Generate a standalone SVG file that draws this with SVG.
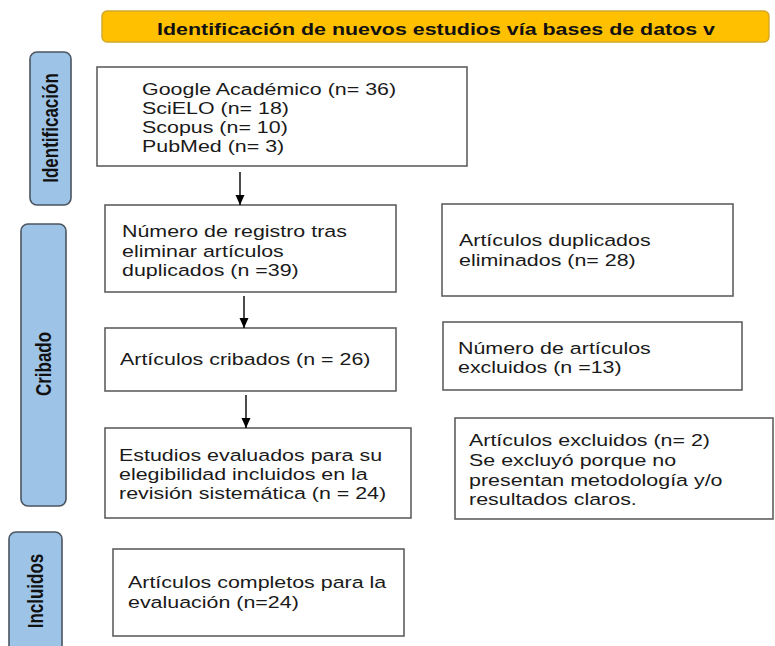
<svg xmlns="http://www.w3.org/2000/svg" width="775" height="646" viewBox="0 0 775 646">
<defs>
<style>
.box{fill:#ffffff;stroke:#5f5f5f;stroke-width:1.6}
.side{fill:#9dc3e6;stroke:#4a5560;stroke-width:1.6}
.title{fill:#ffc000;stroke:#d4a82a;stroke-width:1.4}
.t{font-family:"Liberation Sans",Arial,sans-serif;font-size:17px;fill:#1a1a1a}
.b{font-family:"Liberation Sans",Arial,sans-serif;font-size:17px;font-weight:bold;fill:#111111}
.conn{stroke:#000000;stroke-width:1.4;fill:none}
</style>
<marker id="ah" markerUnits="userSpaceOnUse" markerWidth="10" markerHeight="10" refX="10" refY="5" orient="auto">
<path d="M0,0.5 L10,5 L0,9.5 z" fill="#000000"/>
</marker>
</defs>
<rect width="775" height="646" fill="#ffffff"/>

<g id="title">
<rect class="title" x="102" y="11" width="667" height="31" rx="5"/>
<text class="b" transform="matrix(1.26 0 0 1 157 0)" x="0" y="35">Identificación de nuevos estudios vía bases de datos v</text>
</g>

<g id="phase-identificacion">
<rect class="side" x="30" y="52" width="41" height="153" rx="7"/>
<text class="b" text-anchor="middle" transform="translate(58 128) scale(1.26 1) rotate(-90)">Identificación</text>
</g>

<g id="phase-cribado">
<rect class="side" x="21" y="224" width="45" height="282" rx="7"/>
<text class="b" text-anchor="middle" transform="translate(51 364) scale(1.26 1) rotate(-90)">Cribado</text>
</g>

<g id="phase-incluidos">
<rect class="side" x="9" y="532" width="53" height="130" rx="7"/>
<text class="b" text-anchor="middle" transform="translate(43 591) scale(1.26 1) rotate(-90)">Incluidos</text>
</g>

<g id="node-bases">
<rect class="box" x="97" y="67" width="370" height="99"/>
<text class="t" transform="matrix(1.26 0 0 1 142 0)"><tspan x="0" y="95">Google Académico (n= 36)</tspan><tspan x="0" y="114">SciELO (n= 18)</tspan><tspan x="0" y="133">Scopus (n= 10)</tspan><tspan x="0" y="152">PubMed (n= 3)</tspan></text>
</g>

<g id="node-registro">
<rect class="box" x="105" y="205" width="291" height="87"/>
<text class="t" transform="matrix(1.26 0 0 1 122 0)"><tspan x="0" y="237">Número de registro tras</tspan><tspan x="0" y="257">eliminar artículos</tspan><tspan x="0" y="276">duplicados (n =39)</tspan></text>
</g>

<g id="node-duplicados">
<rect class="box" x="442" y="204" width="291" height="92"/>
<text class="t" transform="matrix(1.26 0 0 1 459 0)"><tspan x="0" y="246">Artículos duplicados</tspan><tspan x="0" y="266">eliminados (n= 28)</tspan></text>
</g>

<g id="node-cribados">
<rect class="box" x="105" y="328" width="291" height="63"/>
<text class="t" transform="matrix(1.26 0 0 1 120 0)"><tspan x="0" y="365">Artículos cribados (n = 26)</tspan></text>
</g>

<g id="node-excluidos13">
<rect class="box" x="443" y="322" width="299" height="68"/>
<text class="t" transform="matrix(1.26 0 0 1 458 0)"><tspan x="0" y="354">Número de artículos</tspan><tspan x="0" y="373">excluidos (n =13)</tspan></text>
</g>

<g id="node-evaluados">
<rect class="box" x="105" y="428" width="306" height="90"/>
<text class="t" transform="matrix(1.26 0 0 1 119 0)"><tspan x="0" y="461">Estudios evaluados para su</tspan><tspan x="0" y="480">elegibilidad incluidos en la</tspan><tspan x="0" y="499">revisión sistemática (n = 24)</tspan></text>
</g>

<g id="node-excluidos2">
<rect class="box" x="455" y="418" width="318" height="101"/>
<text class="t" transform="matrix(1.26 0 0 1 469 0)"><tspan x="0" y="446">Artículos excluidos (n= 2)</tspan><tspan x="0" y="466">Se excluyó porque no</tspan><tspan x="0" y="486">presentan metodología y/o</tspan><tspan x="0" y="505">resultados claros.</tspan></text>
</g>

<g id="node-completos">
<rect class="box" x="113" y="549" width="291" height="87"/>
<text class="t" transform="matrix(1.26 0 0 1 128 0)"><tspan x="0" y="588">Artículos completos para la</tspan><tspan x="0" y="608">evaluación (n=24)</tspan></text>
</g>

<g id="connectors">
<line class="conn" x1="240" y1="172" x2="240" y2="205" marker-end="url(#ah)"/>
<line class="conn" x1="244" y1="296" x2="244" y2="328" marker-end="url(#ah)"/>
<line class="conn" x1="246" y1="395" x2="246" y2="428" marker-end="url(#ah)"/>
</g>
</svg>
